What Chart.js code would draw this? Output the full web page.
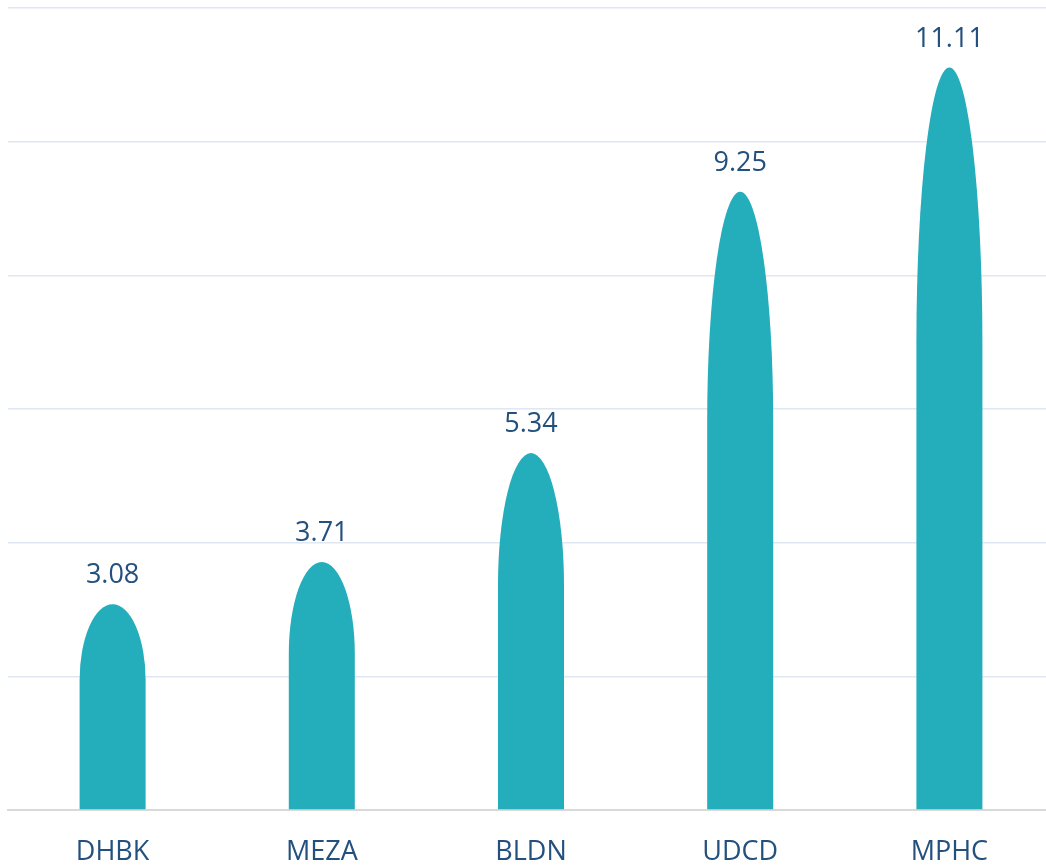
<!DOCTYPE html>
<html>
<head>
<meta charset="utf-8">
<script src="https://cdn.jsdelivr.net/npm/chart.js@4/dist/chart.umd.min.js"></script>
<style>
  html, body { margin: 0; padding: 0; background: #fff; overflow: hidden; }
  #wrap { position: relative; width: 1054px; height: 868px; }
</style>
</head>
<body>
<div id="wrap"><canvas id="chart"></canvas></div>
<script>
// ---------- data ----------
const categories = ['DHBK', 'MEZA', 'BLDN', 'UDCD', 'MPHC']
const values = [3.08, 3.71, 5.34, 9.25, 11.11]
const valueLabels = ['3.08', '3.71', '5.34', '9.25', '11.11']

// ---------- styles ----------
const BAR_COLOR = '#24adba'
const TEXT_COLOR = '#24507d'
const FONT = "'Open Sans', 'Noto Sans', sans-serif"

// bullet shaped bars: flat sides with an elliptical top
const bulletBars = {
  id: 'bulletBars',
  afterDatasetsDraw(chart) {
    const ctx = chart.ctx
    const meta = chart.getDatasetMeta(0)
    ctx.save()
    meta.data.forEach((bar, i) => {
      const half = bar.width / 2
      const h = bar.base - bar.y
      const cap = h * 0.37  // height of rounded top
      ctx.beginPath()
      ctx.moveTo(bar.x - half, bar.base)
      ctx.lineTo(bar.x - half, bar.y + cap)
      ctx.ellipse(bar.x, bar.y + cap, half, cap, 0, Math.PI, 2 * Math.PI)
      ctx.lineTo(bar.x + half, bar.base)
      ctx.closePath()
      ctx.fillStyle = BAR_COLOR
      ctx.fill()

      // value label
      ctx.fillStyle = TEXT_COLOR
      ctx.font = `27px ${FONT}`
      ctx.textAlign = 'center'
      ctx.textBaseline = 'bottom'
      ctx.fillText(valueLabels[i], bar.x, bar.y - 15)
    })
    ctx.restore()
  }
}

new Chart(document.getElementById('chart'), {
  type: 'bar',
  data: {
    labels: categories,
    datasets: [{
      data: values,
      backgroundColor: 'rgba(0,0,0,0)',
      borderWidth: 0,
      barThickness: 66,
    }]
  },
  options: {
    responsive: true,
    maintainAspectRatio: false,
    animation: false,
    layout: { padding: { left: 8, right: 0, top: 8, bottom: 0 } },
    plugins: {
      legend: { display: false },
      tooltip: { enabled: false },
    },
    scales: {
      x: {
        grid: { display: false, drawTicks: false },
        border: { color: '#d9d9d9', width: 2 },
        ticks: {
          color: TEXT_COLOR,
          font: { family: FONT, size: 27 },
          padding: 26,
          maxRotation: 0,
        },
        afterFit(scale) { scale.height = 58 }
      },
      y: {
        min: 0,
        max: 12,
        ticks: { display: false, stepSize: 2 },
        grid: { color: '#dfe8f2', lineWidth: 1.5, drawTicks: false },
        border: { display: false },
      }
    }
  },
  plugins: [bulletBars]
})
</script>
</body>
</html>
